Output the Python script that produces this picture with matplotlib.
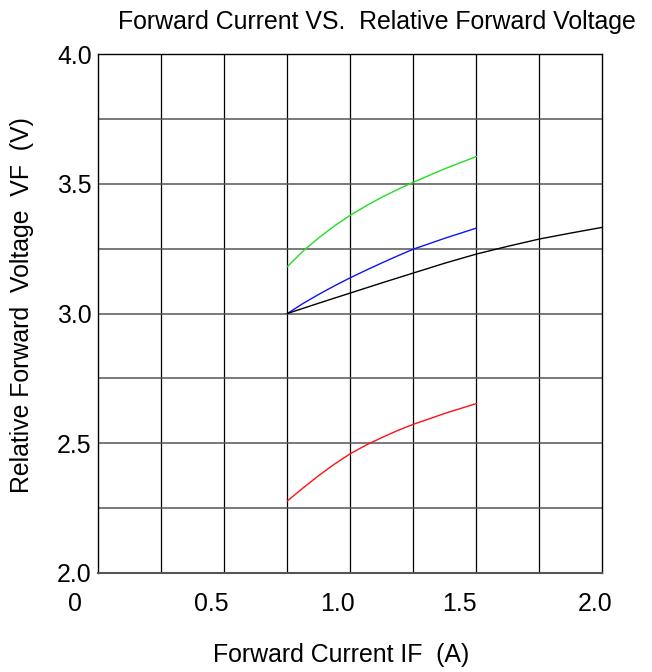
import numpy as np
import matplotlib
matplotlib.use("Agg")
import matplotlib.pyplot as plt
import matplotlib.transforms as mtransforms

plt.rcParams["font.family"] = ["Liberation Sans", "DejaVu Sans"]

# forward current IF (A) and relative forward voltage VF (V)
if_short = [0.75, 0.8125, 0.875, 0.9375, 1.0, 1.0625, 1.125, 1.1875, 1.25, 1.375, 1.5]
if_long = [0.75, 0.875, 1.0, 1.125, 1.25, 1.375, 1.5, 1.625, 1.75, 1.875, 2.0]
vf_green = [3.181, 3.241, 3.292, 3.338, 3.379, 3.415, 3.448, 3.478, 3.506, 3.558, 3.605]
vf_blue = [3.00, 3.039, 3.074, 3.107, 3.138, 3.167, 3.195, 3.222, 3.248, 3.29, 3.329]
vf_black = [3.00, 3.04, 3.079, 3.118, 3.156, 3.194, 3.229, 3.259, 3.287, 3.31, 3.332]
vf_red = [2.278, 2.328, 2.376, 2.420, 2.460, 2.493, 2.522, 2.549, 2.573, 2.615, 2.653]

xtick_vals = [0, 0.5, 1.0, 1.5, 2.0]
xtick_text = ["0", "0.5", "1.0", "1.5", "2.0"]
ytick_vals = [2.0, 2.5, 3.0, 3.5, 4.0]

FS = 17.9

fig = plt.figure(figsize=(6.52, 6.72), dpi=100)
ax = fig.add_axes([98.5 / 652, 99 / 672, (602.3 - 98.5) / 652, 519 / 672])
ax.set_xlim(0, 2.0)
ax.set_ylim(2.0, 4.0)

# grid: vertical black, horizontal dark grey
for x in np.arange(0.25, 2.0, 0.25):
    ax.axvline(x, color="black", lw=0.9, zorder=1)
for y in np.arange(2.25, 4.0, 0.25):
    ax.axhline(y, color="#555555", lw=1.1, zorder=1)

ax.plot(if_short, vf_green, color="#22dd22", lw=1.0, zorder=3)
ax.plot(if_short, vf_blue, color="#1010ff", lw=1.0, zorder=3)
ax.plot(if_long, vf_black, color="black", lw=1.0, zorder=3)
ax.plot(if_short, vf_red, color="#ff1010", lw=1.0, zorder=3)

for side in ("left", "top", "right"):
    ax.spines[side].set_color("black")
    ax.spines[side].set_linewidth(1.0)
ax.spines["bottom"].set_color("#555555")
ax.spines["bottom"].set_linewidth(1.5)

ax.set_yticks(ytick_vals)
ax.set_yticklabels([f"{v:.1f}" for v in ytick_vals], fontsize=FS)
ax.tick_params(axis="y", length=0, pad=5)
ax.set_xticks([])

# x tick labels sit left of their grid lines in the original
x_shift = [-0.095, -0.053, -0.05, -0.068, -0.03]
trans = mtransforms.blended_transform_factory(ax.transData, ax.transAxes)
for v, s, d in zip(xtick_vals, xtick_text, x_shift):
    ax.text(v + d, -31 / 519, s, transform=trans, ha="center", va="center",
            fontsize=FS)

fig.text(377 / 652, 1 - 22 / 672, "Forward Current VS.  Relative Forward Voltage",
         ha="center", va="center", fontsize=FS)
fig.text(341 / 652, 1 - 655 / 672, "Forward Current IF  (A)",
         ha="center", va="center", fontsize=FS)
fig.text(22 / 652, 1 - 305 / 672, "Relative Forward  Voltage  VF  (V)",
         ha="center", va="center", rotation=90, fontsize=FS)

fig.savefig("out.png", dpi=100)
